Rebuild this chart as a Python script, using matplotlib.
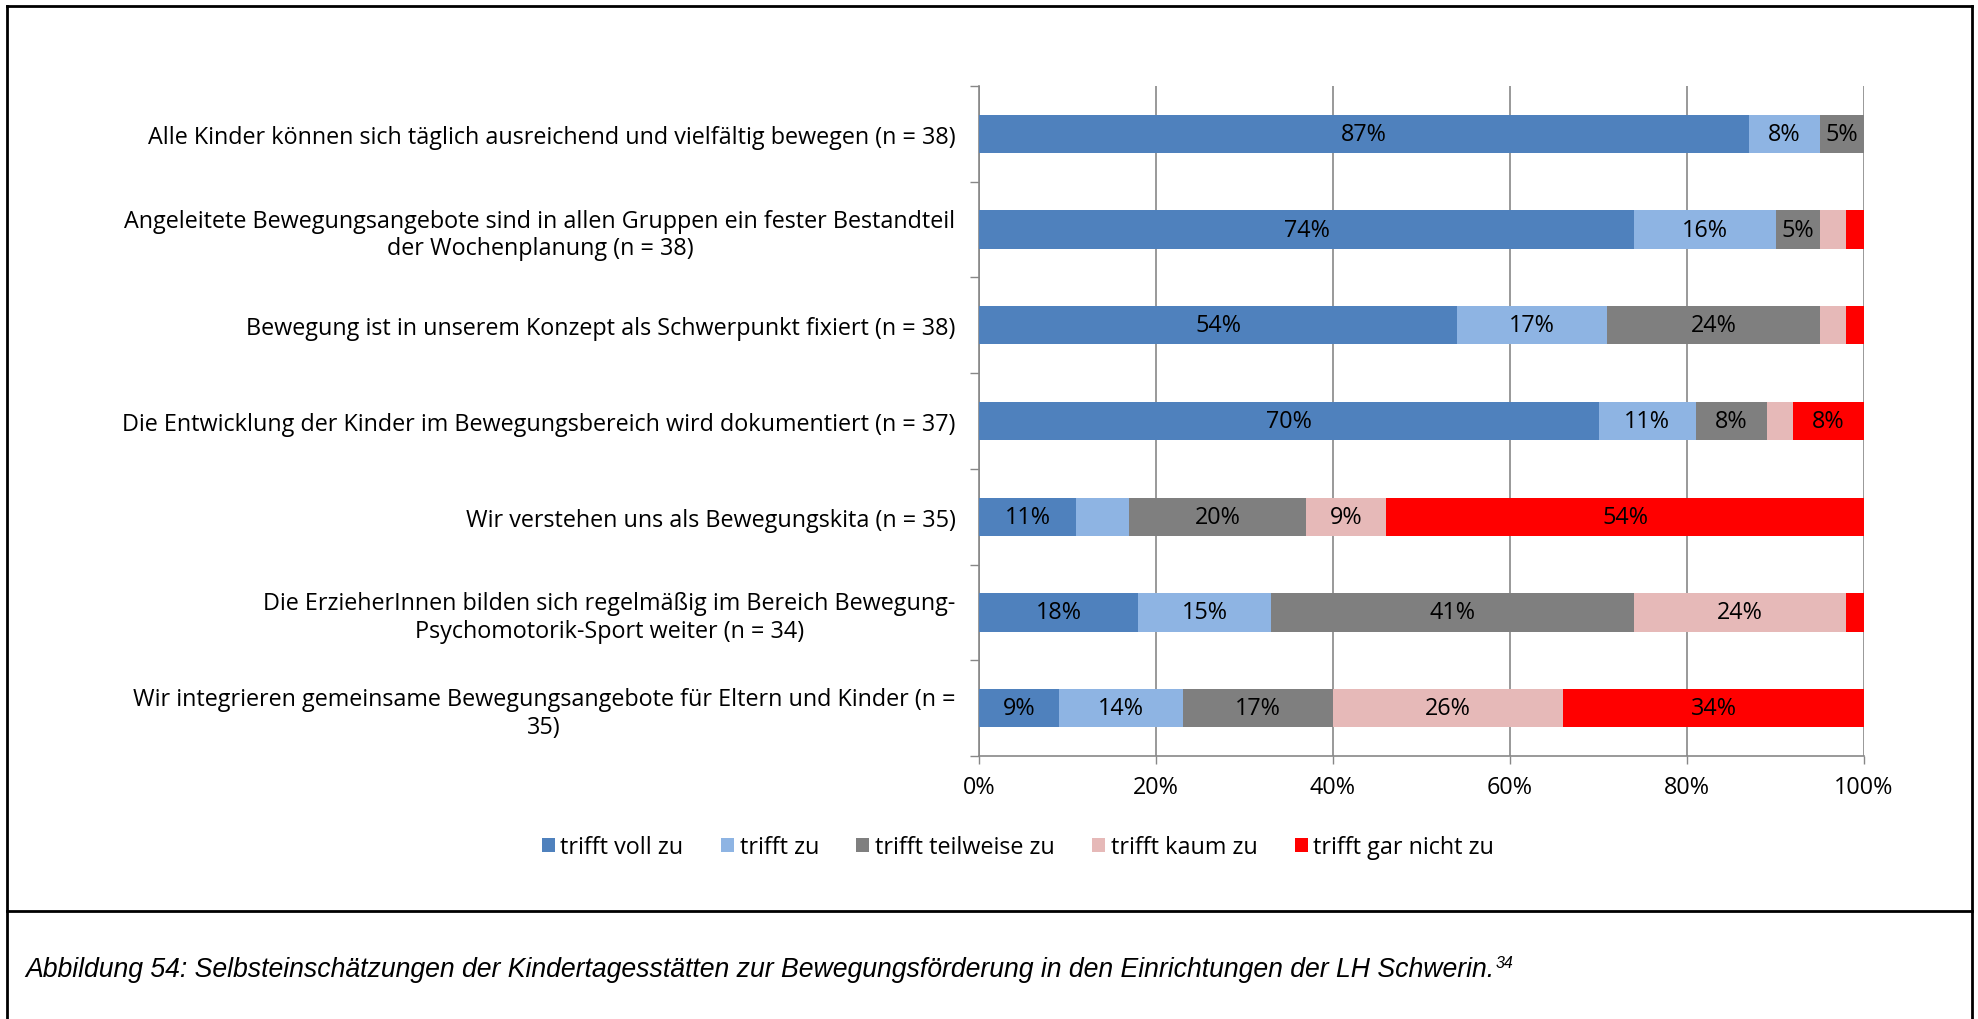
import matplotlib.pyplot as plt
import numpy as np
from matplotlib.lines import Line2D
from matplotlib.patches import Patch

plt.rcParams['font.family'] = ['Open Sans', 'DejaVu Sans']

categories = [
    "Alle Kinder können sich täglich ausreichend und vielfältig bewegen (n = 38)",
    "Angeleitete Bewegungsangebote sind in allen Gruppen ein fester Bestandteil\nder Wochenplanung (n = 38)",
    "Bewegung ist in unserem Konzept als Schwerpunkt fixiert (n = 38)",
    "Die Entwicklung der Kinder im Bewegungsbereich wird dokumentiert (n = 37)",
    "Wir verstehen uns als Bewegungskita (n = 35)",
    "Die ErzieherInnen bilden sich regelmäßig im Bereich Bewegung-\nPsychomotorik-Sport weiter (n = 34)",
    "Wir integrieren gemeinsame Bewegungsangebote für Eltern und Kinder (n =\n35)",
]

# Prozentwerte je Antwortkategorie
voll_zu = [87, 74, 54, 70, 11, 18, 9]
zu = [8, 16, 17, 11, 6, 15, 14]
teilweise_zu = [5, 5, 24, 8, 20, 41, 17]
kaum_zu = [0, 3, 3, 3, 9, 24, 26]
gar_nicht_zu = [0, 2.4, 2, 8, 54, 2.4, 34]

series_names = ["trifft voll zu", "trifft zu", "trifft teilweise zu",
                "trifft kaum zu", "trifft gar nicht zu"]
colors = ["#4F81BD", "#8EB4E3", "#7F7F7F", "#E6B9B8", "#FF0000"]

# welche Segmente eine Beschriftung tragen
show_label = [
    [1, 1, 1, 1, 1, 1, 1],
    [1, 1, 1, 1, 0, 1, 1],
    [1, 1, 1, 1, 1, 1, 1],
    [0, 0, 0, 0, 1, 1, 1],
    [0, 0, 0, 1, 1, 0, 1],
]

W, H = 1978, 1020
fig = plt.figure(figsize=(W / 100, H / 100), dpi=100)
ax = fig.add_axes([979 / W, 1 - 757 / H, (1864 - 979) / W, (757 - 87) / H])

series = [voll_zu, zu, teilweise_zu, kaum_zu, gar_nicht_zu]
y = np.arange(len(categories))
left = np.zeros(len(categories))
fs = 16.8
for vals, col, mask in zip(series, colors, show_label):
    vals = np.array(vals, dtype=float)
    ax.barh(y, vals, left=left, height=0.4, color=col, zorder=3)
    for yi, (l, v, m) in enumerate(zip(left, vals, mask)):
        if m and v > 0:
            ax.text(l + v / 2, yi, f"{v:.0f}%", ha='center', va='center',
                    fontsize=fs, color='black', zorder=4)
    left += vals

ax.set_xlim(0, 100)
ax.set_ylim(len(categories) - 0.5, -0.5)
ax.set_xticks(np.arange(0, 101, 20))
ax.set_xticklabels([f"{v}%" for v in range(0, 101, 20)], fontsize=fs)
ax.set_yticks(y)
ax.set_yticklabels(categories, fontsize=fs, multialignment='center')
ax.set_yticks(np.arange(-0.5, len(categories)), minor=True)

grid_col = "#878787"
ax.tick_params(axis='y', which='major', length=0, pad=17)
ax.tick_params(axis='y', which='minor', length=6.5, width=1, color=grid_col, direction='out')
ax.tick_params(axis='x', length=6, width=1, color=grid_col, pad=8)
ax.grid(axis='x', color=grid_col, linewidth=1.2)
ax.set_axisbelow(True)
for s in ['top', 'right']:
    ax.spines[s].set_visible(False)
for s in ['left', 'bottom']:
    ax.spines[s].set_color(grid_col)
    ax.spines[s].set_linewidth(1.2)

handles = [Patch(facecolor=c, edgecolor='none') for c in colors]
fig.legend(handles, series_names, loc='center', ncol=5,
           bbox_to_anchor=(1018 / W, 1 - 848 / H), frameon=False,
           fontsize=fs, handlelength=0.55, handleheight=0.55,
           handletextpad=0.25, columnspacing=1.6)

# Rahmen und Trennlinie
def px_line(x0, y0, x1, y1, lw=2):
    fig.add_artist(Line2D([x0 / W, x1 / W], [1 - y0 / H, 1 - y1 / H],
                          color='black', linewidth=lw, transform=fig.transFigure))

px_line(7, 7, 1972, 7)
px_line(7, 7, 7, H + 5)
px_line(1972, 7, 1972, H + 5)
px_line(7, 912, 1972, 912)

cap = fig.text(25 / W, 1 - 977 / H,
               "Abbildung 54: Selbsteinschätzungen der Kindertagesstätten zur "
               "Bewegungsförderung in den Einrichtungen der LH Schwerin.",
               family='Liberation Sans', style='italic', fontsize=19.2, va='baseline')
# Fußnotenzeichen hochgestellt
ax.annotate("34", xy=(1, 0), xycoords=cap, xytext=(1, 10.5), textcoords='offset points',
            family='Liberation Sans', style='italic', fontsize=11.5, va='baseline',
            annotation_clip=False)

fig.savefig("out.png", dpi=100)
